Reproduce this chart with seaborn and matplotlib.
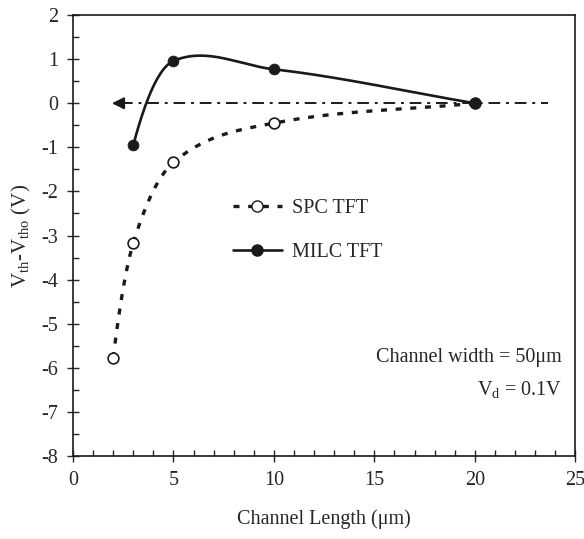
import matplotlib
matplotlib.use("Agg")
import matplotlib.pyplot as plt
import seaborn as sns
import numpy as np
import pandas as pd
from matplotlib.lines import Line2D
from matplotlib.ticker import MultipleLocator

# data
spc_len = [2, 3, 5, 10, 20]
spc_dvth = [-5.78, -3.17, -1.34, -0.45, 0.0]
milc_len = [3, 5, 10, 20]
milc_dvth = [-0.95, 0.96, 0.77, 0.0]
ref_line = [1.8, 23.65]  # horizontal reference (dash-dot) with arrow


def smooth(x, y, n=200, tscale=1.0):
    # cubic hermite through the measured points (just for drawing the curve)
    x = np.asarray(x, float)
    y = np.asarray(y, float)
    m = np.zeros_like(y)
    m[1:-1] = tscale * (y[2:] - y[:-2]) / (x[2:] - x[:-2])
    m[0] = 2 * (y[1] - y[0]) / (x[1] - x[0]) - m[1]
    m[-1] = (y[-1] - y[-2]) / (x[-1] - x[-2])
    xs, ys = [], []
    for i in range(len(x) - 1):
        h = x[i + 1] - x[i]
        t = np.linspace(0, 1, n)
        h00 = 2 * t**3 - 3 * t**2 + 1
        h10 = t**3 - 2 * t**2 + t
        h01 = -2 * t**3 + 3 * t**2
        h11 = t**3 - t**2
        xs.append(x[i] + t * h)
        ys.append(h00 * y[i] + h10 * h * m[i] + h01 * y[i + 1] + h11 * h * m[i + 1])
    return np.concatenate(xs), np.concatenate(ys)


sns.set_theme(style="ticks")
plt.rcParams["font.family"] = ["Liberation Serif", "DejaVu Serif"]
plt.rcParams["mathtext.fontset"] = "custom"
plt.rcParams["mathtext.rm"] = "Liberation Serif"
plt.rcParams["axes.unicode_minus"] = False

fig = plt.figure(figsize=(5.84, 5.39), dpi=100)
ax = fig.add_axes([0.125, 0.154, 0.86, 0.818])

sx, sy = smooth(spc_len, spc_dvth)
mx, my = smooth(milc_len, milc_dvth, tscale=0.8)
curves = pd.DataFrame({"x": sx, "y": sy})
sns.lineplot(data=curves, x="x", y="y", ax=ax, color="k", lw=2.4,
             linestyle=(0, (1.8, 2.6)), sort=False, estimator=None)
sns.lineplot(x=mx, y=my, ax=ax, color="k", lw=1.9, sort=False, estimator=None)

sns.scatterplot(x=spc_len, y=spc_dvth, ax=ax, marker="o", s=60,
                facecolor="white", edgecolor="k", linewidth=1.2, zorder=5)
sns.scatterplot(x=milc_len, y=milc_dvth, ax=ax, marker="o", s=60,
                color="k", edgecolor="k", zorder=5)

# reference line at zero with arrow
ax.hlines(0, ref_line[0] + 0.6, ref_line[1], colors="k",
          linestyles=[(0, (6, 3, 1.5, 3))], lw=1.4)
ax.annotate("", xy=(ref_line[0], 0), xytext=(ref_line[0] + 0.9, 0),
            arrowprops=dict(arrowstyle="-|>", color="k", lw=1.4, mutation_scale=18))

ax.set_xlim(0, 25)
ax.set_ylim(-8, 2)
ax.xaxis.set_major_locator(MultipleLocator(5))
ax.xaxis.set_minor_locator(MultipleLocator(1))
ax.yaxis.set_major_locator(MultipleLocator(1))
ax.yaxis.set_minor_locator(MultipleLocator(0.5))
ax.tick_params(which="major", direction="inout", length=9, width=1, labelsize=14.5, pad=6)
ax.tick_params(which="minor", direction="in", length=4, width=1)
for sp in ax.spines.values():
    sp.set_linewidth(1.2)
    sp.set_color("k")

ax.set_xlabel("Channel Length (μm)", fontsize=14.5, labelpad=14)
ax.set_ylabel(r"V$_\mathrm{th}$-V$_\mathrm{tho}$ (V)", fontsize=15, labelpad=6)

handles = [
    Line2D([], [], color="k", lw=2.4, linestyle=(0, (1.8, 2.6)), marker="o",
           markerfacecolor="white", markeredgecolor="k", markersize=8),
    Line2D([], [], color="k", lw=1.9, marker="o", markersize=8),
]
ax.legend(handles, ["SPC TFT", "MILC TFT"], loc="upper left",
          bbox_to_anchor=(0.319, 0.582), frameon=False, fontsize=14.5,
          handlelength=2.4, handletextpad=0.5, labelspacing=1.2,
          borderpad=0, borderaxespad=0)

ax.text(0.974, 0.2245, "Channel width = 50μm", transform=ax.transAxes,
        ha="right", va="center", fontsize=14.5)
ax.text(0.974, 0.15, r"V$_\mathrm{d}$ = 0.1V", transform=ax.transAxes,
        ha="right", va="center", fontsize=14.5)

fig.savefig("out.png", dpi=100)
